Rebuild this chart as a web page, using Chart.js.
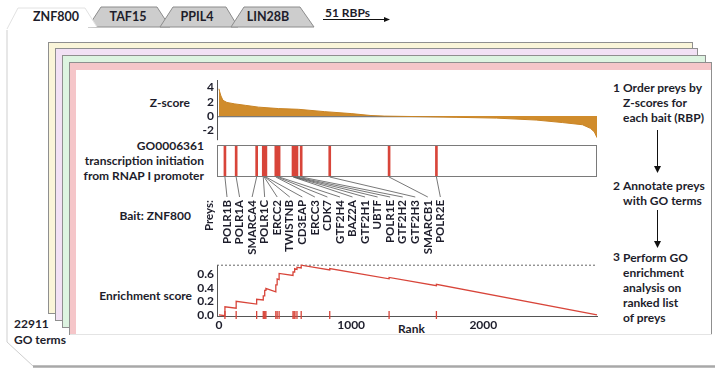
<!DOCTYPE html>
<html>
<head>
<meta charset="utf-8">
<script src="https://cdn.jsdelivr.net/npm/chart.js@4.4.0/dist/chart.umd.min.js"></script>
<style>
  body { margin: 0; background: #fff; }
  #stage { position: relative; width: 715px; height: 370px; overflow: hidden; }
  #stage svg, #stage canvas { position: absolute; }
  .t { font-family: Lato, sans-serif; font-weight: bold; font-size: 12px; fill: #1d1d2b; dominant-baseline: central; }
  .e { text-anchor: end; }
  .tab { font-size: 12.5px; text-anchor: middle; }
</style>
</head>
<body>
<div id="stage">
<svg width="715" height="370" style="left:0;top:0">
  <!-- outer card -->
  <path d="M7,28 L7,342 L33,367 L715,367 L715,28 Z" fill="#fff"/>
  <path d="M7,30 L7,342 L33,366" fill="none" stroke="#cfcfcf"/>
  <line x1="33" y1="366.5" x2="715" y2="366.5" stroke="#a8a8a8" stroke-width="2.5"/>

  <!-- tabs -->
  <polygon points="88,27 101,7 157,7 170,27" fill="#cdcdcd" stroke="#8c8c8c"/>
  <polygon points="160,27 173,7 226,7 238,27" fill="#cdcdcd" stroke="#8c8c8c"/>
  <polygon points="231,27 244,7 300,7 314,27" fill="#cdcdcd" stroke="#8c8c8c"/>
  <path d="M6,29 L18,8 L85,8 L97,27 Z" fill="#fff"/>
  <path d="M7,29 L18,8 L85,8 L97,27" fill="none" stroke="#e2e2e2"/>
  <text class="t tab" x="56" y="16">ZNF800</text>
  <text class="t tab" x="128" y="16">TAF15</text>
  <text class="t tab" x="197" y="16">PPIL4</text>
  <text class="t tab" x="268" y="16">LIN28B</text>
  <text class="t" x="325" y="12">51 RBPs</text>
  <line x1="323" y1="19.5" x2="384" y2="19.5" stroke="#111"/>
  <polygon points="384,17 390,19.5 384,22" fill="#111"/>

  <!-- stacked bait frames -->
  <rect x="48.5" y="42.5" width="644" height="271" fill="#faf5d9" stroke="#8f8f8f"/>
  <rect x="55.5" y="48.5" width="642" height="272" fill="#f2e1f5" stroke="#8f8f8f"/>
  <rect x="62.5" y="55.5" width="643" height="272" fill="#ddf4e1" stroke="#8f8f8f"/>
  <rect x="69.5" y="62.5" width="642" height="272" fill="#f5c6c9" stroke="#8f8f8f"/>
  <rect x="76" y="70" width="635" height="265" fill="#fff"/>
  <line x1="70" y1="334.5" x2="712" y2="334.5" stroke="#e4e4e4"/>

  <!-- left labels -->
  <text class="t e" x="190" y="102">Z-score</text>
  <text class="t e" x="204" y="145">GO0006361</text>
  <text class="t e" x="204" y="160">transcription initiation</text>
  <text class="t e" x="204" y="175">from RNAP I promoter</text>
  <text class="t e" x="191" y="215">Bait: ZNF800</text>
  <text class="t e" x="192" y="295">Enrichment score</text>
  <text class="t" x="398" y="328">Rank</text>
  <text class="t" x="14" y="323">22911</text>
  <text class="t" x="14" y="339">GO terms</text>

  <!-- workflow steps -->
  <text class="t" x="613" y="87">1</text>
  <text class="t" x="623" y="87">Order preys by</text>
  <text class="t" x="623" y="102">Z-scores for</text>
  <text class="t" x="623" y="117">each bait (RBP)</text>
  <line x1="657.5" y1="130" x2="657.5" y2="167" stroke="#111"/>
  <polygon points="654,166 661,166 657.5,173" fill="#111"/>
  <text class="t" x="613" y="185">2</text>
  <text class="t" x="623" y="185">Annotate preys</text>
  <text class="t" x="623" y="200">with GO terms</text>
  <line x1="657.5" y1="210" x2="657.5" y2="242" stroke="#111"/>
  <polygon points="654,241 661,241 657.5,248" fill="#111"/>
  <text class="t" x="613" y="256">3</text>
  <text class="t" x="623" y="257">Perform GO</text>
  <text class="t" x="623" y="272">enrichment</text>
  <text class="t" x="623" y="287">analysis on</text>
  <text class="t" x="623" y="302">ranked list</text>
  <text class="t" x="623" y="317">of preys</text>
</svg>
<canvas id="zChart" width="460" height="80" style="left:150px;top:70px"></canvas>
<canvas id="goChart" width="460" height="125" style="left:150px;top:140px"></canvas>
<canvas id="esChart" width="460" height="80" style="left:150px;top:255px"></canvas>
</div>

<script>
// preys of bait ZNF800 annotated with GO0006361, in rank order
var preyNames = ['POLR1B','POLR1A','SMARCA4','POLR1C','ERCC2','TWISTNB','CD3EAP','ERCC3','CDK7',
                 'GTF2H4','BAZ2A','GTF2H1','UBTF','POLR1E','GTF2H2','GTF2H3','SMARCB1','POLR2E'];
var preyRanks = [45,130,285,335,342,348,355,430,440,455,560,568,575,590,622,838,1287,1645];

// ranked Z-score profile
var zRanks  = [0,5,15,30,60,120,200,300,450,600,800,1000,1150,1250,1500,1800,2100,2400,2600,2750,2810,2840,2860];
var zScores = [3.8,3.4,2.8,2.2,1.9,1.7,1.5,1.25,1.05,0.95,0.62,0.35,0.08,0,-0.07,-0.17,-0.28,-0.55,-0.9,-1.2,-1.7,-2.2,-3.0];
var zTicks  = [-2,0,2,4];

// running enrichment score
var esRanks  = [0,45,45,130,130,285,285,335,335,342,342,348,348,355,355,430,430,440,440,455,455,
                560,560,568,568,575,575,590,590,622,622,838,838,1287,1287,1645,1645,2860];
var esScores = [0,-0.01,0.12,0.10,0.20,0.16,0.23,0.22,0.28,0.28,0.33,0.33,0.36,0.36,0.39,0.34,0.44,0.44,0.53,0.52,0.61,
                0.58,0.63,0.63,0.66,0.66,0.68,0.67,0.70,0.69,0.73,0.66,0.68,0.53,0.55,0.43,0.45,0];
var esTicks   = [0,0.2,0.4,0.6];
var rankTicks = [0,1000,2000];

var rankMin = -15, rankMax = 2860;
var esMax = Math.max.apply(null, esScores);

var ink = '#1d1d2b';
var red = '#d8453a';
Chart.defaults.font.family = 'Lato';
Chart.defaults.color = ink;

function fixedTicks(list) {
  return function(axis) { axis.ticks = list.map(function(v){ return {value: v}; }); };
}

var common = {
  responsive: false,
  animation: false,
  plugins: { legend: {display: false}, tooltip: {enabled: false} }
};

// 1. Z-score
new Chart(document.getElementById('zChart'), {
  type: 'line',
  data: {
    datasets: [{
      data: zRanks.map(function(r, i){ return {x: r, y: zScores[i]}; }),
      borderColor: '#c98425',
      backgroundColor: '#d08c2c',
      borderWidth: 1,
      fill: 'origin',
      pointRadius: 0,
      tension: 0
    }]
  },
  options: Object.assign({}, common, {
    layout: { autoPadding: false, padding: {left: 43, right: 13, top: 4, bottom: 8} },
    scales: {
      x: { type: 'linear', display: false, min: rankMin, max: rankMax },
      y: {
        min: -3.3, max: 5,
        afterFit: function(s){ s.width = 24; },
        afterBuildTicks: fixedTicks(zTicks),
        border: { display: true, color: '#555' },
        grid: {
          drawTicks: false,
          lineWidth: 1.2,
          color: function(c){ return c.tick && c.tick.value === 0 ? '#7a7a7a' : 'rgba(0,0,0,0)'; }
        },
        ticks: { padding: 3, autoSkip: false, font: {size: 12, weight: 'bold'} }
      }
    }
  })
});

// 2. GO term hits + prey labels
var goLabels = {
  id: 'goLabels',
  afterDraw: function(chart) {
    var ctx = chart.ctx, a = chart.chartArea, xs = chart.scales.x;
    var top = a.bottom + 24;
    ctx.save();
    ctx.strokeStyle = '#7a7a7a';
    ctx.lineWidth = 1;
    ctx.strokeRect(a.left + 0.5, a.top + 0.5, a.right - a.left - 1, a.bottom - a.top);
    ctx.strokeStyle = '#555';
    ctx.lineWidth = 0.8;
    ctx.fillStyle = ink;
    ctx.font = 'bold 11.5px Lato';
    ctx.textAlign = 'right';
    ctx.textBaseline = 'middle';
    preyNames.forEach(function(name, i) {
      var hx = xs.getPixelForValue(preyRanks[i]);
      var lx = a.left + 10 + i * 12.55;
      ctx.beginPath();
      ctx.moveTo(hx, a.bottom + 1);
      ctx.lineTo(lx, top - 3);
      ctx.stroke();
      ctx.save();
      ctx.translate(lx, top);
      ctx.rotate(-Math.PI / 2);
      ctx.fillText(name, 0, 0);
      ctx.restore();
    });
    ctx.translate(a.left - 8, top);
    ctx.rotate(-Math.PI / 2);
    ctx.fillText('Preys:', 0, 0);
    ctx.restore();
  }
};

new Chart(document.getElementById('goChart'), {
  type: 'bar',
  data: {
    datasets: [{
      data: preyRanks.map(function(r){ return {x: r, y: 1}; }),
      backgroundColor: red,
      barThickness: 2,
      borderWidth: 0
    }]
  },
  options: Object.assign({}, common, {
    layout: { autoPadding: false, padding: {left: 67, right: 13, top: 5, bottom: 89} },
    scales: {
      x: { type: 'linear', display: false, offset: false, min: rankMin, max: rankMax },
      y: { display: false, min: 0, max: 1 }
    }
  }),
  plugins: [goLabels]
});

// 3. enrichment score
new Chart(document.getElementById('esChart'), {
  type: 'line',
  data: {
    datasets: [
      {
        data: esRanks.map(function(r, i){ return {x: r, y: esScores[i]}; }),
        borderColor: red, borderWidth: 1.3, pointRadius: 0, tension: 0, fill: false, clip: false
      },
      {
        data: preyRanks.map(function(r){ return {x: r, y: 0}; }),
        showLine: false, pointStyle: 'line', rotation: 90, pointRadius: 4,
        borderColor: red, borderWidth: 1.3, clip: false
      },
      {
        data: [{x: rankMin, y: esMax}, {x: rankMax, y: esMax}],
        borderColor: '#666', borderWidth: 1, borderDash: [2, 2], pointRadius: 0, clip: false
      }
    ]
  },
  options: Object.assign({}, common, {
    layout: { autoPadding: false, padding: {left: 43, right: 13, top: 9, bottom: 0} },
    scales: {
      x: {
        type: 'linear', min: rankMin, max: rankMax,
        afterFit: function(s){ s.height = 19; },
        afterBuildTicks: fixedTicks(rankTicks),
        border: { display: true, color: '#555' },
        grid: { display: false, drawTicks: false },
        ticks: { padding: 2, maxRotation: 0, autoSkip: false, font: {size: 12, weight: 'bold'},
                 callback: function(v){ return String(v); } }
      },
      y: {
        min: -0.015, max: esMax,
        afterFit: function(s){ s.width = 24; },
        afterBuildTicks: fixedTicks(esTicks),
        border: { display: true, color: '#555' },
        grid: { display: false, drawTicks: false },
        ticks: { padding: 3, autoSkip: false, font: {size: 12, weight: 'bold'},
                 callback: function(v){ return v.toFixed(1); } }
      }
    }
  })
});
</script>
</body>
</html>
